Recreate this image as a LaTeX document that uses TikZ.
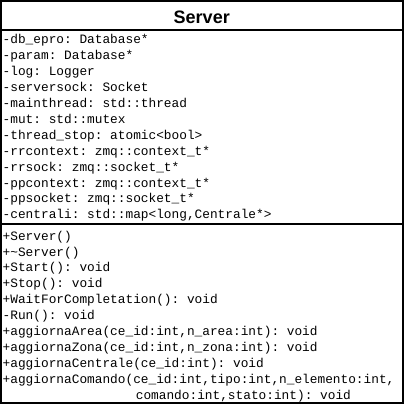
\documentclass[tikz,border=0pt]{standalone}
\usepackage{fontspec}
\setsansfont{Liberation Sans}
\setmonofont{Liberation Mono}
\usetikzlibrary{positioning}
\tikzstyle{frame} = [draw, line width=2pt, rectangle, minimum width=401.5pt, minimum height=401.5pt, inner sep=0pt]
\tikzstyle{classname} = [font=\sffamily\bfseries\fontsize{18}{20}\selectfont, inner sep=0pt]
\tikzstyle{members} = [font=\ttfamily\fontsize{12.8}{15.9}\selectfont, align=left, inner sep=0pt]
\tikzstyle{separator} = [line width=2pt]
\begin{document}
\begin{tikzpicture}[x=1pt,y=1pt]
\useasboundingbox (0,0) rectangle (404,-406);
% Nodes
	\node [frame] (frame) at (201.75,-201.75) {};
	\node [classname, anchor=base] (title) at (201.75,-24) {Server};
	\coordinate (sepA) at (0,-30.5);
	\coordinate (sepB) at (0,-223.5);
	\node [members, anchor=north west] (attributes) at (2.5,-34.5) {-db\_epro: Database*\\
		-param: Database*\\
		-log: Logger\\
		-serversock: Socket\\
		-mainthread: std::thread\\
		-mut: std::mutex\\
		-thread\_stop: atomic<bool>\\
		-rrcontext: zmq::context\_t*\\
		-rrsock: zmq::socket\_t*\\
		-ppcontext: zmq::context\_t*\\
		-ppsocket: zmq::socket\_t*\\
		-centrali: std::map<long,Centrale*>};
	\node [members, anchor=north west] (methods) at (2.5,-230.7) {+Server()\\
		+\textasciitilde Server()\\
		+Start(): void\\
		+Stop(): void\\
		+WaitForCompletation(): void\\
		-Run(): void\\
		+aggiornaArea(ce\_id:int,n\_area:int): void\\
		+aggiornaZona(ce\_id:int,n\_zona:int): void\\
		+aggiornaCentrale(ce\_id:int): void\\
		+aggiornaComando(ce\_id:int,tipo:int,n\_elemento:int,\\
		\hspace*{10.4em}comando:int,stato:int): void};
% Connections
	\draw [separator] (frame.west |- sepA) -- (frame.east |- sepA);
	\draw [separator] (frame.west |- sepB) -- (frame.east |- sepB);
\end{tikzpicture}
\end{document}
